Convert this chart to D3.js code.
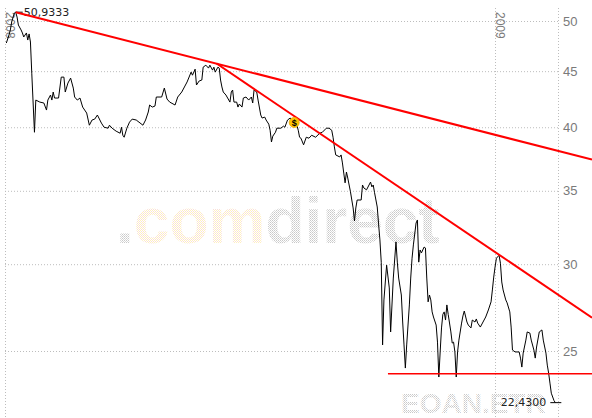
<!DOCTYPE html>
<html>
<head>
<meta charset="utf-8">
<script src="https://cdn.jsdelivr.net/npm/d3@7"></script>
<style>
html, body { margin: 0; padding: 0; background: #fff; }
svg { display: block; }
</style>
</head>
<body>
<div id="chart"></div>
<script>
var W = 592, H = 418;

// time axis: day offsets counted from startDate
var startDate = new Date(2008, 0, 1),
    endDate = new Date(2009, 1, 17);
var yearTicks = [new Date(2008, 0, 1), new Date(2009, 0, 1)];
var yTicks = [25, 30, 35, 40, 45, 50];

// E.ON (EOAN.ETR) closes
var days = [
  1, 3, 4, 5, 7, 8, 9, 10, 12, 13,
  14, 16, 17, 18, 19, 20, 22, 23, 26, 29,
  31, 32, 34, 35, 36, 37, 40, 42, 44, 45,
  47, 49, 51, 52, 54, 56, 58, 61, 63, 65,
  67, 69, 72, 74, 77, 78, 80, 83, 86, 87,
  88, 89, 91, 93, 95, 98, 103, 105, 107, 108,
  110, 112, 113, 117, 119, 121, 123, 127, 129, 132,
  134, 136, 139, 140, 142, 143, 145, 147, 148, 150,
  152, 153, 155, 156, 157, 159, 160, 161, 162, 163,
  165, 168, 169, 170, 171, 173, 174, 175, 177, 178,
  180, 182, 184, 185, 186, 188, 189, 191, 192, 194,
  195, 197, 198, 199, 200, 202, 203, 206, 208, 209,
  211, 213, 215, 218, 219, 220, 221, 223, 225, 227,
  229, 232, 235, 237, 240, 242, 244, 245, 246, 247,
  250, 251, 252, 253, 254, 255, 256, 258, 259, 260,
  261, 262, 263, 266, 267, 268, 270, 273, 274, 275,
  276, 278, 279, 280, 281, 282, 283, 285, 287, 288,
  290, 292, 293, 294, 296, 297, 298, 299, 300, 302,
  303, 304, 305, 307, 308, 309, 310, 311, 313, 314,
  315, 316, 317, 318, 319, 320, 322, 323, 324, 325,
  326, 327, 328, 329, 330, 331, 333, 334, 335, 336,
  337, 338, 339, 341, 342, 343, 345, 346, 348, 349,
  351, 352, 353, 355, 357, 359, 361, 363, 364, 365,
  366, 367, 369, 370, 371, 372, 374, 375, 377, 378,
  379, 381, 384, 385, 386, 387, 389, 390, 392, 393,
  395, 396, 397, 399, 401, 402, 404, 405, 406, 407,
  408, 410, 411
];
var prices = [
  47.74, 48.56, 49.07, 49.90, 50.85, 50.9333, 50.42, 49.58, 49.07, 48.76,
  48.35, 48.76, 48.04, 48.66, 47.84, 44.81, 39.58, 42.35, 42.17, 42.09,
  41.47, 42.35, 42.80, 42.35, 43.07, 42.53, 42.53, 44.44, 44.44, 43.07,
  43.89, 44.35, 43.43, 42.62, 42.35, 42.53, 41.73, 41.21, 40.17, 40.61,
  40.69, 41.04, 40.35, 40.00, 39.92, 40.17, 39.92, 39.67, 39.50, 40.00,
  39.33, 39.17, 39.92, 40.43, 40.69, 40.61, 40.17, 40.61, 41.30, 41.91,
  41.73, 41.82, 42.62, 42.62, 43.43, 42.44, 42.17, 41.91, 42.62, 43.07,
  43.53, 43.99, 44.91, 44.62, 45.19, 43.71, 44.08, 44.17, 45.38, 45.57,
  45.29, 45.57, 45.10, 45.38, 44.91, 45.38, 45.29, 44.17, 43.53, 43.07,
  42.80, 42.17, 43.07, 43.25, 42.17, 42.17, 41.73, 42.00, 41.73, 42.53,
  42.62, 42.35, 42.62, 42.09, 43.25, 43.07, 42.35, 41.04, 40.78, 40.86,
  40.61, 40.26, 39.75, 38.78, 39.26, 39.58, 39.92, 39.92, 40.09, 40.00,
  40.61, 40.78, 40.35, 40.17, 39.75, 39.17, 39.09, 38.55, 39.17, 39.09,
  39.33, 39.17, 39.50, 39.58, 39.92, 39.92, 39.75, 39.17, 38.38, 37.74,
  37.58, 37.74, 37.11, 36.33, 35.59, 36.41, 35.95, 34.93, 34.33, 33.76,
  32.85, 33.76, 34.33, 34.33, 35.43, 35.21, 35.07, 35.65, 35.29, 35.43,
  34.86, 33.83, 32.65, 31.57, 30.12, 25.32, 27.83, 29.94, 28.54, 26.02,
  29.14, 31.44, 30.13, 29.14, 28.12, 26.57, 25.32, 24.12, 25.32, 27.54,
  29.14, 30.38, 31.24, 32.71, 32.92, 30.13, 30.91, 30.72, 31.10, 31.04,
  29.14, 27.72, 28.12, 27.83, 27.14, 26.85, 26.40, 25.47, 23.67, 24.95,
  26.24, 27.00, 27.14, 26.68, 27.54, 27.00, 26.02, 25.42, 25.47, 24.95,
  23.67, 24.95, 25.58, 26.51, 26.91, 27.19, 26.57, 26.40, 26.24, 26.68,
  26.57, 26.74, 26.51, 26.29, 26.57, 26.85, 27.25, 27.72, 28.42, 29.20,
  29.83, 30.38, 30.57, 30.06, 28.90, 28.42, 27.83, 27.66, 27.14, 26.29,
  25.05, 24.95, 24.95, 24.63, 24.17, 24.89, 25.58, 26.02, 25.96, 25.58,
  25.05, 24.63, 25.21, 26.02, 26.13, 25.58, 24.89, 24.27, 23.87, 23.37,
  22.88, 22.53, 22.43
];

// trend lines [day, price], drawn on to the right edge
var trendA = [[8, 50.9333], [413, 38.06]];
var trendB = [[158, 45.73], [369, 30.6]];
var support = [[286, 23.83]];
// "$" event marker
var eventDay = 216, eventPrice = 40.4;

var svg = d3.select('#chart').append('svg')
    .attr('width', W)
    .attr('height', H)
    .style('font-family', '"Liberation Sans", Arial, sans-serif');

var x = d3.scaleTime().domain([startDate, endDate]).range([5, 558]);
var y = d3.scaleLog().domain([25, 50]).range([351, 21]);

function dayDate(d) { return d3.timeDay.offset(startDate, d); }

// dotted fill for the watermark
var defs = svg.append('defs');
function dots(id, c1, c2) {
  var p = defs.append('pattern').attr('id', id)
      .attr('width', 2).attr('height', 2)
      .attr('patternUnits', 'userSpaceOnUse');
  p.append('rect').attr('width', 1).attr('height', 1).attr('fill', c1);
  p.append('rect').attr('x', 1).attr('y', 1).attr('width', 1).attr('height', 1).attr('fill', c2);
}
dots('dotGray', '#c9c9c9', '#d9d9d9');
dots('dotYellow', '#fff0bf', '#f9e0d8');

// watermark
var wm = svg.append('text')
    .attr('x', 116).attr('y', 243)
    .style('font-size', '64px').style('font-weight', 'bold');
wm.append('tspan').attr('fill', 'url(#dotGray)').text('.');
wm.append('tspan').attr('fill', 'url(#dotYellow)').text('com');
wm.append('tspan').attr('fill', 'url(#dotGray)').text('direct');

svg.append('text')
    .attr('x', 401).attr('y', 413)
    .attr('fill', 'url(#dotGray)')
    .style('font-size', '28px').style('font-weight', 'bold')
    .text('EOAN.ETR');

// horizontal grid + right labels
var axisY = d3.axisRight(y)
    .tickValues(yTicks)
    .tickSize(-(558 - 5))
    .tickPadding(5)
    .tickFormat(d3.format('d'));
var gy = svg.append('g').attr('class', 'axis axis-y')
    .attr('transform', 'translate(558,0)')
    .call(axisY);
gy.select('.domain').remove();
gy.selectAll('line')
    .attr('stroke', '#bdbdbd')
    .attr('stroke-dasharray', '1,2');
gy.selectAll('text')
    .attr('fill', '#7a7a7a')
    .style('font-size', '13px')
    .style('font-family', '"Liberation Sans", Arial, sans-serif');

// year lines
var vlines = yearTicks.concat([endDate]);
svg.selectAll('.vgrid').data(vlines).enter()
  .append('line')
    .attr('class', 'vgrid')
    .attr('x1', function(d) { return Math.round(x(d)) + 0.5; })
    .attr('x2', function(d) { return Math.round(x(d)) + 0.5; })
    .attr('y1', 8).attr('y2', H)
    .attr('stroke', '#bdbdbd')
    .attr('stroke-dasharray', '1,2');

svg.selectAll('.year').data(yearTicks).enter()
  .append('text')
    .attr('class', 'year')
    .attr('transform', function(d) { return 'translate(' + (x(d) + 1) + ',12) rotate(90)'; })
    .attr('fill', '#7a7a7a')
    .style('font-size', '12px')
    .text(function(d) { return d.getFullYear(); });

// price line
var line = d3.line()
    .x(function(d, i) { return x(dayDate(days[i])); })
    .y(function(d) { return y(d); });

svg.append('path')
    .datum(prices)
    .attr('d', line)
    .attr('fill', 'none')
    .attr('stroke', '#000')
    .attr('stroke-width', 1);

// max / last labels
var fmt = function(v) { return d3.format('.4f')(v).replace('.', ','); };
var iMax = d3.maxIndex(prices), iLast = prices.length - 1;
var mx = x(dayDate(days[iMax])), my = y(prices[iMax]);
var lx = x(dayDate(days[iLast])), ly = y(prices[iLast]);

svg.append('line')
    .attr('x1', mx).attr('x2', mx + 7)
    .attr('y1', my).attr('y2', my)
    .attr('stroke', '#000');
svg.append('text')
    .attr('x', mx + 8).attr('y', my).attr('dy', '0.35em')
    .attr('fill', '#222')
    .style('font-family', '"DejaVu Sans", Verdana, sans-serif')
    .style('font-size', '11px')
    .text(fmt(prices[iMax]));

svg.append('line')
    .attr('x1', lx - 5).attr('x2', lx + 6)
    .attr('y1', ly).attr('y2', ly)
    .attr('stroke', '#000');
svg.append('text')
    .attr('x', lx - 9).attr('y', ly).attr('dy', '0.35em')
    .attr('text-anchor', 'end')
    .attr('fill', '#222')
    .style('font-family', '"DejaVu Sans", Verdana, sans-serif')
    .style('font-size', '11px')
    .text(fmt(prices[iLast]));

// trend lines, extended to the right edge
function trend(pts) {
  var p1 = [x(dayDate(pts[0][0])), y(pts[0][1])];
  var p2 = pts.length > 1 ? [x(dayDate(pts[1][0])), y(pts[1][1])] : [W, p1[1]];
  var k = (p2[1] - p1[1]) / (p2[0] - p1[0]);
  svg.append('line')
      .attr('x1', p1[0]).attr('y1', p1[1])
      .attr('x2', W).attr('y2', p1[1] + (W - p1[0]) * k)
      .attr('stroke', '#ff0000')
      .attr('stroke-width', pts.length > 1 ? 2 : 1.5);
}
trend(trendA);
trend(trendB);
trend(support);

// event marker
var ev = svg.append('g')
    .attr('transform', 'translate(' + x(dayDate(eventDay)) + ',' + y(eventPrice) + ')');
ev.append('circle').attr('r', 5).attr('fill', '#ffc400').attr('stroke', '#f0a800').attr('stroke-width', 0.8);
ev.append('text')
    .attr('text-anchor', 'middle').attr('dy', '0.35em')
    .attr('fill', '#000')
    .style('font-size', '9px').style('font-weight', 'bold')
    .text('$');
</script>
</body>
</html>
